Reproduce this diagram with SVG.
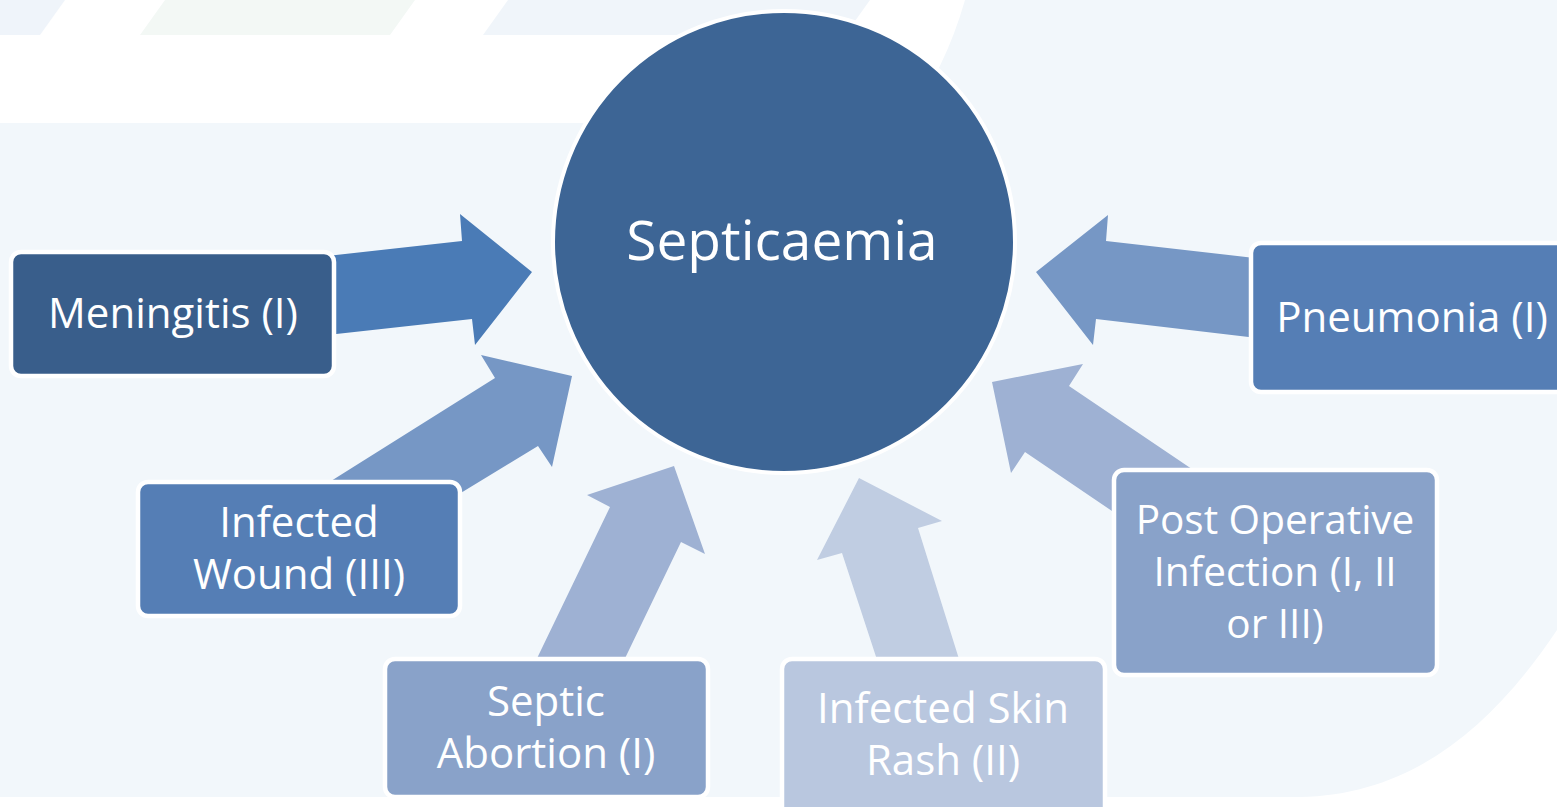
<svg xmlns="http://www.w3.org/2000/svg" width="1557" height="807" viewBox="0 0 1557 807">
<style>
.box{stroke:#FFFFFF;stroke-width:4.5}
.lbl{font-family:"Open Sans","Liberation Sans",sans-serif;fill:#FFFFFF;text-anchor:middle;font-size:42px}
.big{font-size:55px}
.sm{font-size:40.5px}
</style>
<rect x="0" y="0" width="1557" height="807" fill="#FFFFFF"/>
<g id="background">
<polygon points="0,0 65,0 40,35 0,35" fill="#EFF4FA"/>
<polygon points="165,0 415,0 390,35 140,35" fill="#F3F8F5"/>
<polygon points="508,0 870,0 845,35 483,35" fill="#F0F5FA"/>
<path d="M965,0 L1557,0 L1557,630 C1490,730 1410,795 1300,797 L0,797 L0,123 L905,123 Q945,70 965,0 Z" fill="#F2F7FB"/>
</g>
<g id="connectors">
<polygon id="arrow-meningitis" points="300,259 462,241 460,214 532,272 475,345 472,319 300,338" fill="#4A7BB6"/>
<polygon id="arrow-wound" points="296,503 495,378 481,355 572,376 552,467 538,446 423,516" fill="#7697C5"/>
<polygon id="arrow-septic" points="528,677 610,507 587,495 674,466 705,554 681,542 616,677" fill="#9EB1D3"/>
<polygon id="arrow-skin" points="882,675 842,553 817,560 859,478 942,521 918,528 964,675" fill="#C0CDE2"/>
<polygon id="arrow-postop" points="1140,530 1025,452 1011,473 992,382 1083,364 1069,386 1220,488" fill="#9EB1D3"/>
<polygon id="arrow-pneumonia" points="1290,262 1106,241 1108,215 1036,272 1093,345 1096,319 1290,342" fill="#7697C5"/>
</g>
<g id="septicaemia">
<circle cx="784" cy="242" r="231" fill="#3D6595" stroke="#FFFFFF" stroke-width="4"/>
<text class="lbl big" x="782" y="260">Septicaemia</text>
</g>
<g id="meningitis">
<rect class="box" x="11" y="252" width="323" height="124" rx="10" fill="#395E8B"/>
<text class="lbl" x="173" y="328">Meningitis (I)</text>
</g>
<g id="infected-wound">
<rect class="box" x="138" y="482" width="322" height="134" rx="10" fill="#557EB5"/>
<text class="lbl" x="299" y="537">Infected</text>
<text class="lbl" x="299" y="589">Wound (III)</text>
</g>
<g id="septic-abortion">
<rect class="box" x="385" y="659" width="323" height="138" rx="10" fill="#89A2C9"/>
<text class="lbl" x="546" y="716">Septic</text>
<text class="lbl" x="546" y="768">Abortion (I)</text>
</g>
<g id="infected-skin-rash">
<rect class="box" x="782" y="659" width="323" height="170" rx="10" fill="#B9C7DF"/>
<text class="lbl" x="943" y="723">Infected Skin</text>
<text class="lbl" x="943" y="775">Rash (II)</text>
</g>
<g id="post-operative">
<rect class="box" x="1114" y="470" width="323" height="205" rx="10" fill="#89A2C9"/>
<text class="lbl sm" x="1275" y="534">Post Operative</text>
<text class="lbl sm" x="1275" y="586">Infection (I, II</text>
<text class="lbl sm" x="1275" y="638">or III)</text>
</g>
<g id="pneumonia">
<rect class="box" x="1251" y="243" width="330" height="149" rx="10" fill="#557EB5"/>
<text class="lbl" x="1412" y="332">Pneumonia (I)</text>
</g>
</svg>
